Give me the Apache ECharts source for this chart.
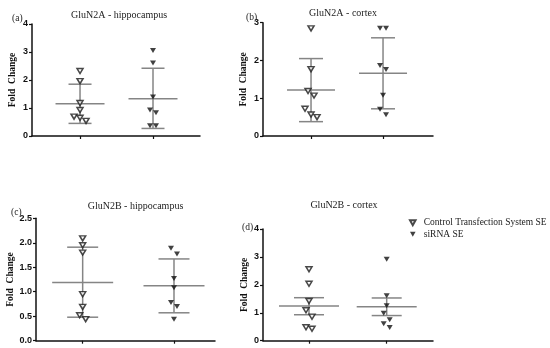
<!DOCTYPE html>
<html>
<head>
<meta charset="utf-8">
<script src="https://cdn.jsdelivr.net/npm/echarts@6/dist/echarts.min.js"></script>
<style>html,body{margin:0;padding:0;background:#fff;}#chart{width:550px;height:348px;}</style>
</head>
<body>
<div id="chart"></div>
<script>
// ---- data ----
const groupNames = ['Control Transfection System SE', 'siRNA SE'];
const groupX = [1, 2];
const panelTitles = ['GluN2A - hippocampus', 'GluN2A - cortex', 'GluN2B - hippocampus', 'GluN2B - cortex'];
const panelLetters = ['(a)', '(b)', '(c)', '(d)'];
const yAxisName = 'Fold  Change';
const yMax = [4, 3, 2.5, 4];
const yStep = [1, 1, 0.5, 1];

const aControl = [2.32, 1.96, 1.18, 0.93, 0.69, 0.65, 0.54];
const aSiRNA   = [3.05, 2.61, 1.39, 0.93, 0.83, 0.37, 0.37];
const aMean  = [1.15, 1.33];
const aUpper = [1.85, 2.42];
const aLower = [0.45, 0.27];

const bControl = [2.85, 1.77, 1.19, 1.07, 0.72, 0.57, 0.50];
const bSiRNA   = [2.85, 2.85, 1.87, 1.76, 1.08, 0.71, 0.56];
const bMean  = [1.22, 1.66];
const bUpper = [2.05, 2.60];
const bLower = [0.38, 0.72];

const cControl = [2.09, 1.95, 1.80, 0.95, 0.69, 0.52, 0.44];
const cSiRNA   = [1.89, 1.77, 1.27, 1.08, 0.78, 0.70, 0.44];
const cMean  = [1.19, 1.12];
const cUpper = [1.91, 1.67];
const cLower = [0.48, 0.57];

const dControl = [2.56, 2.04, 1.42, 1.09, 0.86, 0.48, 0.43];
const dSiRNA   = [2.92, 1.61, 1.25, 0.98, 0.75, 0.61, 0.47];
const dMean  = [1.24, 1.22];
const dUpper = [1.54, 1.53];
const dLower = [0.93, 0.90];

// ---- layout ----
const panels = [
  {ctrl: aControl, si: aSiRNA, mean: aMean, up: aUpper, lo: aLower,
   grid: {left: 32, top: 24, width: 168, height: 112}, xMin: 0.342, xMax: 2.644, hw: 24.5, cw: 11.5,
   title: [114, 5], letter: [7, 8], nameGap: 14},
  {ctrl: bControl, si: bSiRNA, mean: bMean, up: bUpper, lo: bLower,
   grid: {left: 263, top: 22.7, width: 170, height: 113.3}, xMin: 0.333, xMax: 2.694, hw: 24, cw: 12,
   title: [338, 3], letter: [241, 7], nameGap: 14},
  {ctrl: cControl, si: cSiRNA, mean: cMean, up: cUpper, lo: cLower,
   grid: {left: 36, top: 218.3, width: 179, height: 122.4}, xMin: 0.489, xMax: 2.449, hw: 30.5, cw: 15.5,
   title: [130.5, 196], letter: [6, 202], nameGap: 20},
  {ctrl: dControl, si: dSiRNA, mean: dMean, up: dUpper, lo: dLower,
   grid: {left: 263, top: 229, width: 170, height: 111.7}, xMin: 0.408, xMax: 2.596, hw: 30, cw: 15,
   title: [339, 195], letter: [237, 217], nameGap: 13}
];

const GRAY = '#858585';
const SERIF = '"Liberation Serif", "Times New Roman", serif';
const SANS = '"Liberation Sans", Arial, sans-serif';
const DOWN_TRI = 'path://M0,0 L10,0 L5,9 Z';

// dodge points that would overlap vertically
function dodge(values, pxPerUnit) {
  const idx = values.map((v, i) => i).sort((a, b) => values[b] - values[a]);
  const off = new Array(values.length).fill(0);
  let cluster = [idx[0]];
  const flush = () => {
    const n = cluster.length;
    if (n === 2) { off[cluster[0]] = -3; off[cluster[1]] = 3; }
    else if (n === 3) { off[cluster[0]] = -6; off[cluster[1]] = 0; off[cluster[2]] = 6; }
    else if (n > 3) { cluster.forEach((k, j) => off[k] = (j % 2 ? 3 : -3)); }
  };
  for (let j = 1; j < idx.length; j++) {
    const prev = idx[j - 1], cur = idx[j];
    if ((values[prev] - values[cur]) * pxPerUnit < 6.5) cluster.push(cur);
    else { flush(); cluster = [cur]; }
  }
  flush();
  return off;
}

const grids = [], xAxes = [], yAxes = [], series = [], titles = [];
panels.forEach((p, i) => {
  grids.push(p.grid);
  xAxes.push({
    type: 'value', gridIndex: i, min: p.xMin, max: p.xMax,
    splitLine: {show: false},
    axisLine: {show: true, lineStyle: {color: '#111', width: 1.5}},
    axisTick: {show: true, customValues: groupX, length: 3, lineStyle: {color: '#111', width: 1.2}},
    axisLabel: {show: false}
  });
  yAxes.push({
    type: 'value', gridIndex: i, min: 0, max: yMax[i], interval: yStep[i],
    name: yAxisName, nameLocation: 'middle', nameGap: p.nameGap,
    nameTextStyle: {fontFamily: SERIF, fontWeight: 'bold', fontSize: 9.5, color: '#111'},
    splitLine: {show: false},
    axisLine: {show: true, lineStyle: {color: '#111', width: 1.5}},
    axisTick: {show: true, length: 3, lineStyle: {color: '#111', width: 1.2}},
    axisLabel: {fontFamily: SANS, fontWeight: 'bold', fontSize: 9, color: '#111', margin: 4,
      formatter: v => yStep[i] < 1 ? v.toFixed(1) : String(v)}
  });
  const pxPerUnit = p.grid.height / yMax[i];
  // mean +/- error bars
  series.push({
    type: 'custom', xAxisIndex: i, yAxisIndex: i, z: 2, silent: true,
    data: groupX.map((x, g) => [x, p.mean[g], p.lo[g], p.up[g]]),
    encode: {x: 0, y: [1, 2, 3]},
    renderItem: (params, api) => {
      const x = api.value(0);
      const pm = api.coord([x, api.value(1)]);
      const pl = api.coord([x, api.value(2)]);
      const ph = api.coord([x, api.value(3)]);
      const st = {stroke: GRAY, lineWidth: 1.5};
      return {type: 'group', children: [
        {type: 'line', shape: {x1: pm[0] - p.hw, y1: pm[1], x2: pm[0] + p.hw, y2: pm[1]}, style: st},
        {type: 'line', shape: {x1: pm[0], y1: ph[1], x2: pm[0], y2: pl[1]}, style: st},
        {type: 'line', shape: {x1: pm[0] - p.cw, y1: ph[1], x2: pm[0] + p.cw, y2: ph[1]}, style: st},
        {type: 'line', shape: {x1: pm[0] - p.cw, y1: pl[1], x2: pm[0] + p.cw, y2: pl[1]}, style: st}
      ]};
    }
  });
  [p.ctrl, p.si].forEach((vals, g) => {
    const off = dodge(vals, pxPerUnit);
    series.push({
      type: 'scatter', name: groupNames[g], xAxisIndex: i, yAxisIndex: i, z: 5,
      symbol: DOWN_TRI, symbolSize: [6, 5],
      itemStyle: g === 0 ? {color: '#fff', borderColor: '#1a1a1a', borderWidth: 1.5} : {color: '#111'},
      data: vals.map((v, k) => ({value: [groupX[g], v], symbolOffset: [off[k], 0]}))
    });
  });
  titles.push({text: panelTitles[i], left: p.title[0], top: p.title[1], textAlign: 'center',
    textStyle: {fontFamily: SERIF, fontWeight: 'normal', fontSize: 10, color: '#222'}});
  titles.push({text: panelLetters[i], left: p.letter[0], top: p.letter[1],
    textStyle: {fontFamily: SERIF, fontWeight: 'normal', fontSize: 9.5, color: '#222'}});
});

const chart = echarts.init(document.getElementById('chart'), null, {renderer: 'canvas'});
chart.setOption({
  backgroundColor: '#fff',
  animation: false,
  title: titles,
  grid: grids,
  xAxis: xAxes,
  yAxis: yAxes,
  legend: {
    data: groupNames, orient: 'vertical', left: 409, top: 217, padding: 0,
    itemWidth: 6, itemHeight: 5, itemGap: 0,
    textStyle: {fontFamily: SERIF, fontSize: 9.5, color: '#222', lineHeight: 11.5, padding: [0, 0, 0, 3]}
  },
  series: series
});
</script>
</body>
</html>
